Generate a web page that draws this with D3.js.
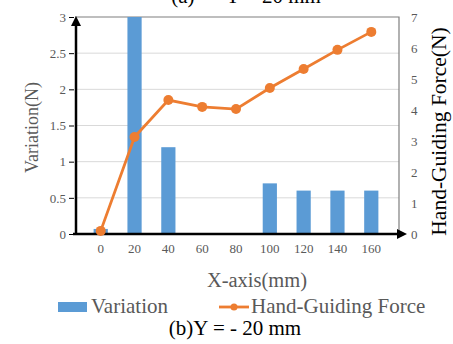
<!DOCTYPE html>
<html><head><meta charset="utf-8">
<script src="https://cdn.jsdelivr.net/npm/d3@7"></script>
<style>body{margin:0;background:#fff}svg{display:block}svg text{font-family:"Liberation Serif","Times New Roman",serif}</style>
</head><body>
<svg id="c" width="453" height="344"></svg>
<script>
const categories = ["0","20","40","60","80","100","120","140","160"];
const variation = [0.07,3,1.2,0,0,0.7,0.6,0.6,0.6];
const force = [0.1,3.13,4.32,4.1,4.03,4.71,5.32,5.94,6.52];
const leftTicks = [0,0.5,1,1.5,2,2.5,3];
const rightTicks = [0,1,2,3,4,5,6,7];

const svg = d3.select("#c");
const L=75,R=399,T=17,B=234;
const x = d3.scaleBand().domain(categories).range([L-1,R-1]).padding(0.58);
const yL = d3.scaleLinear().domain([0,3]).range([B,T]);
const yR = d3.scaleLinear().domain([0,7]).range([B,T]);
function ff(sel){ sel.style("font-family","'Liberation Serif','Times New Roman',serif"); return sel; }

// top caption (clipped in reference)
ff(svg.append("text").attr("x",246).attr("y",3).attr("text-anchor","middle")
  .attr("font-size",21).attr("fill","#000")
  .attr("xml:space","preserve").text("(a)      Y = 20 mm"));

// grid
svg.append("g").selectAll("line").data(leftTicks.filter(d=>d>0&&d<3)).join("line")
  .attr("x1",L).attr("x2",R).attr("y1",d=>yL(d)).attr("y2",d=>yL(d))
  .attr("stroke","#d9d9d9").attr("stroke-width",1);
svg.append("path").attr("d",`M${L},${T}H${R}V${B}`).attr("fill","none").attr("stroke","#7f7f7f").attr("stroke-width",1.2);

// bars
svg.append("g").selectAll("rect").data(variation).join("rect")
  .attr("x",(d,i)=>x(categories[i])).attr("width",x.bandwidth())
  .attr("y",d=>yL(d)).attr("height",d=>B-yL(d)).attr("fill","#5b9bd5");

// axes
const defs=svg.append("defs");
defs.append("marker").attr("id","arr").attr("viewBox","0 0 10 10").attr("refX",5).attr("refY",5)
 .attr("markerWidth",4).attr("markerHeight",4).attr("orient","auto")
 .append("path").attr("d","M0,0L10,5L0,10z").attr("fill","#000");
svg.append("line").attr("x1",L+1).attr("x2",L+1).attr("y1",B+1).attr("y2",T+4)
  .attr("stroke","#000").attr("stroke-width",2.5).attr("marker-end","url(#arr)");
svg.append("line").attr("x1",L-2).attr("x2",R+3).attr("y1",B).attr("y2",B)
  .attr("stroke","#000").attr("stroke-width",2.5).attr("marker-end","url(#arr)");

const la = svg.append("g").attr("transform",`translate(${L-1},0)`).call(d3.axisLeft(yL).tickValues(leftTicks).tickSize(5).tickFormat(d3.format("")));
la.select(".domain").remove();
la.selectAll("line").attr("stroke","#000");
ff(la.selectAll("text")).attr("font-size",13).attr("fill","#595959");

const ra = svg.append("g").attr("transform",`translate(${R},0)`).call(d3.axisRight(yR).tickValues(rightTicks).tickSize(0).tickPadding(12).tickFormat(d3.format("d")));
ra.select(".domain").remove();
ff(ra.selectAll("text")).attr("font-size",13).attr("fill","#595959");

const ba = svg.append("g").attr("transform",`translate(0,${B})`).call(d3.axisBottom(x).tickSize(0).tickPadding(10));
ba.select(".domain").remove();
ff(ba.selectAll("text")).attr("font-size",13).attr("fill","#595959");

// line
const line = d3.line().x((d,i)=>x(categories[i])+x.bandwidth()/2).y(d=>yR(d));
svg.append("path").datum(force).attr("d",line).attr("fill","none").attr("stroke","#ed7d31").attr("stroke-width",2.8);
svg.append("g").selectAll("circle").data(force).join("circle")
  .attr("cx",(d,i)=>x(categories[i])+x.bandwidth()/2).attr("cy",d=>yR(d)).attr("r",5).attr("fill","#ed7d31");

// axis titles
ff(svg.append("text").attr("transform",`translate(38,${(T+B)/2+2}) rotate(-90)`).attr("text-anchor","middle")
  .attr("font-size",18).attr("fill","#595959").text("Variation(N)"));
ff(svg.append("text").attr("transform",`translate(446,${(T+B)/2+6}) rotate(-90)`).attr("text-anchor","middle")
  .attr("font-size",21.5).attr("fill","#000").text("Hand-Guiding Force(N)"));
ff(svg.append("text").attr("x",257).attr("y",287).attr("text-anchor","middle")
  .attr("font-size",20.5).attr("fill","#595959").text("X-axis(mm)"));

// legend
const lg = svg.append("g");
lg.append("rect").attr("x",58).attr("y",302).attr("width",29).attr("height",10).attr("fill","#5b9bd5");
ff(lg.append("text").attr("x",91).attr("y",313).attr("font-size",21).attr("fill","#595959").text("Variation"));
lg.append("line").attr("x1",219).attr("x2",249).attr("y1",307).attr("y2",307).attr("stroke","#ed7d31").attr("stroke-width",2.8);
lg.append("circle").attr("cx",234).attr("cy",307).attr("r",3.5).attr("fill","#ed7d31");
ff(lg.append("text").attr("x",251).attr("y",313).attr("font-size",21).attr("fill","#595959").text("Hand-Guiding Force"));

ff(svg.append("text").attr("x",235).attr("y",335).attr("text-anchor","middle")
  .attr("font-size",21).attr("fill","#000").text("(b)Y = - 20 mm"));
</script>
</body></html>
